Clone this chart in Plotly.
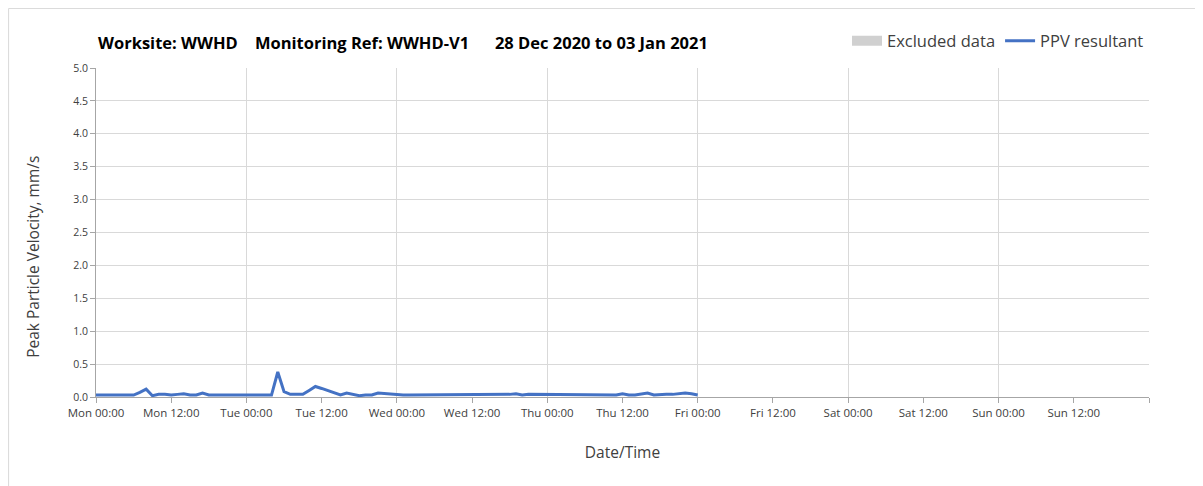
import plotly.graph_objects as go
import pandas as pd

start_time = "2020-12-28 00:00"
end_time = "2021-01-04 00:00"
hours = list(range(0, 97))
ppv = [0.03, 0.03, 0.03, 0.04, 0.03, 0.04, 0.03, 0.07, 0.12, 0.02,
       0.04, 0.04, 0.03, 0.04, 0.05, 0.03, 0.03, 0.06, 0.03, 0.03,
       0.03, 0.04, 0.03, 0.03, 0.03, 0.04, 0.03, 0.03, 0.03, 0.38,
       0.08, 0.04, 0.04, 0.04, 0.10, 0.16, 0.13, 0.10, 0.06, 0.03,
       0.06, 0.04, 0.02, 0.03, 0.03, 0.06, 0.05, 0.04, 0.04, 0.03,
       0.03, 0.03, 0.04, 0.03, 0.03, 0.04, 0.04, 0.04, 0.04, 0.04,
       0.04, 0.04, 0.04, 0.04, 0.03, 0.04, 0.04, 0.05, 0.03, 0.04,
       0.04, 0.03, 0.03, 0.04, 0.03, 0.04, 0.04, 0.04, 0.04, 0.04,
       0.04, 0.04, 0.04, 0.03, 0.05, 0.03, 0.03, 0.04, 0.06, 0.03,
       0.04, 0.04, 0.04, 0.05, 0.06, 0.05, 0.03]
tick_labels = ["Mon 00:00", "Mon 12:00", "Tue 00:00", "Tue 12:00", "Wed 00:00",
               "Wed 12:00", "Thu 00:00", "Thu 12:00", "Fri 00:00", "Fri 12:00",
               "Sat 00:00", "Sat 12:00", "Sun 00:00", "Sun 12:00", ""]
title_text = ("<b>Worksite: WWHD&nbsp;&nbsp;&nbsp;&nbsp;Monitoring Ref: WWHD-V1"
              "&nbsp;&nbsp;&nbsp;&nbsp;&nbsp;&nbsp;28 Dec 2020 to 03 Jan 2021</b>")
y_title = "Peak Particle Velocity, mm/s"
x_title = "Date/Time"

times = pd.Timestamp(start_time) + pd.to_timedelta(hours, unit="h")
tick_vals = pd.Timestamp(start_time) + pd.to_timedelta(
    [12 * i for i in range(len(tick_labels))], unit="h")

FONT = "'Open Sans', Lato, sans-serif"
GRID = "#d9d9d9"
AXIS = "#a6a6a6"

fig = go.Figure()
fig.add_trace(go.Scatter(x=[None], y=[None], mode="lines", name="Excluded data",
                         line=dict(color="#d0d0d0", width=10)))
fig.add_trace(go.Scatter(x=times, y=ppv, mode="lines", name="PPV resultant",
                         line=dict(color="#4472C4", width=3)))
# helper trace for day gridlines axis
fig.add_trace(go.Scatter(x=[start_time], y=[None], xaxis="x2", showlegend=False,
                         hoverinfo="skip"))

fig.update_layout(
    width=1203, height=486,
    margin=dict(l=88, r=62, t=60, b=97),
    paper_bgcolor="white", plot_bgcolor="white",
    font=dict(family=FONT, color="#404040"),
    showlegend=True,
    legend=dict(orientation="h", x=1.0, xanchor="right", y=1.082, yanchor="middle",
                font=dict(size=16.5, color="#404040"), itemwidth=30,
                traceorder="normal", bgcolor="rgba(0,0,0,0)"),
    xaxis=dict(type="date", range=[start_time, end_time],
               tickmode="array", tickvals=tick_vals, ticktext=tick_labels,
               showgrid=False,
               ticks="outside", ticklen=5, tickcolor=AXIS,
               showline=True, linecolor=AXIS, linewidth=1,
               tickfont=dict(size=11.5, color="#404040"),
               title=dict(text=x_title, font=dict(size=15.5, color="#404040"),
                          standoff=28)),
    xaxis2=dict(type="date", range=[start_time, end_time], overlaying="x",
                tick0=start_time, dtick=24 * 3600 * 1000, showgrid=True,
                gridcolor=GRID, gridwidth=1, showticklabels=False, ticks="",
                showline=False, zeroline=False),
    yaxis=dict(range=[0, 5], dtick=0.5, tickformat=".1f", showgrid=True,
               gridcolor=GRID, gridwidth=1, zeroline=False,
               ticks="outside", ticklen=5, tickcolor=AXIS,
               showline=True, linecolor=AXIS, linewidth=1,
               tickfont=dict(size=10.5, color="#404040")),
    annotations=[
        dict(text=title_text, xref="paper", yref="paper", x=0.0, y=1.078,
             xanchor="left", yanchor="middle", showarrow=False,
             font=dict(size=16.5, color="#000000", family=FONT)),
        dict(text=y_title, xref="paper", yref="paper", x=-0.06, y=0.4255,
             xanchor="center", yanchor="middle", textangle=-90, showarrow=False,
             font=dict(size=15.5, color="#404040", family=FONT)),
    ],
    shapes=[dict(type="rect", xref="paper", yref="paper",
                 x0=-0.0830, x1=1.3, y0=-0.5, y1=1.181,
                 line=dict(color="#d9d9d9", width=1), fillcolor="rgba(0,0,0,0)",
                 layer="below")],
)

fig.write_html("out.html")
